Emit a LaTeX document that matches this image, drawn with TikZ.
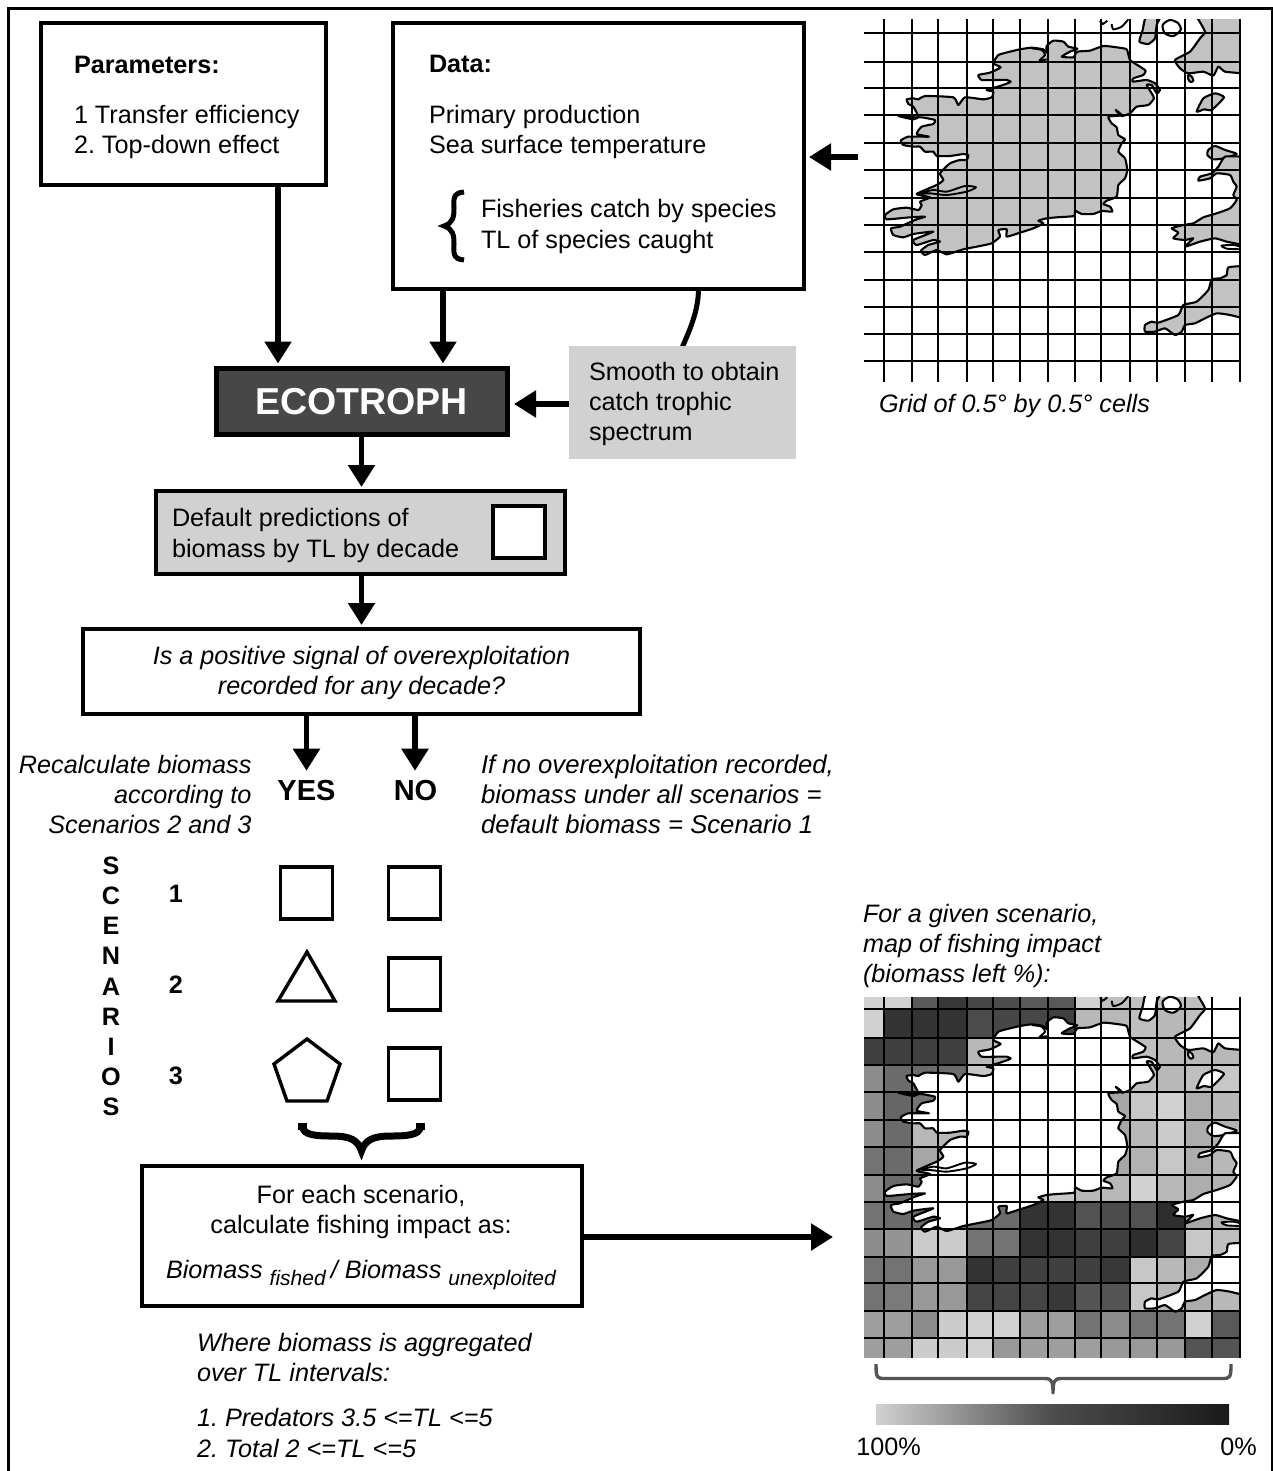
\documentclass[tikz,border=0pt]{standalone}
\usepackage{fontspec}
\setmainfont{Liberation Sans}
\usetikzlibrary{arrows.meta,calc}
\definecolor{landgray}{gray}{0.76}
\definecolor{boxgray}{gray}{0.82}
\definecolor{darkbox}{gray}{0.28}
\definecolor{bracegray}{gray}{0.33}
\newcommand{\landshapes}{%
 % Ireland
 \draw[land] plot[smooth cycle,tension=.3] coordinates {(430,160)(445,135)(480,125)(510,118)(545,113)(580,118)(590,128)(590,108)(610,92)(640,95)(655,110)(682,116)(660,125)(635,140)(670,142)(682,125)(720,122)(760,108)(800,112)(830,118)(840,150)(870,170)(887,182)(880,195)(850,205)(848,215)(890,210)(915,220)(930,240)(920,250)(905,225)(890,225)(905,250)(912,265)(895,285)(860,290)(840,310)(815,318)(797,300)(815,316)(775,320)(785,340)(800,352)(805,375)(825,388)(815,400)(805,425)(825,445)(832,480)(825,505)(805,525)(800,560)(770,572)(760,582)(780,590)(787,605)(755,603)(730,612)(695,612)(675,602)(672,618)(620,622)(590,625)(565,632)(580,640)(550,655)(510,668)(470,680)(470,658)(445,660)(450,680)(425,700)(390,708)(340,718)(290,733)(260,720)(225,735)(213,722)(235,705)(270,695)(250,690)(200,705)(190,690)(250,665)(190,672)(160,682)(130,675)(123,655)(150,650)(195,630)(225,620)(180,622)(110,628)(105,615)(130,598)(170,593)(205,600)(215,585)(210,575)(240,562)(200,552)(260,525)(280,510)(270,490)(300,460)(330,450)(350,450)(355,435)(340,432)(300,438)(260,438)(250,425)(225,425)(210,410)(190,410)(160,405)(152,392)(175,380)(237,380)(200,372)(215,350)(250,342)(255,330)(215,322)(195,322)(145,318)(190,328)(205,320)(190,290)(175,282)(170,268)(190,265)(205,268)(225,258)(310,262)(325,285)(345,262)(400,268)(425,262)(430,245)(410,240)(450,228)(482,216)(470,210)(440,210)(395,210)(385,195)(420,188)(452,172)};
 \draw[line width=1.9pt,line join=round] plot[smooth,tension=.4] coordinates {(200,552)(250,540)(290,545)(345,528)(378,532)(350,545)(290,555)(240,550)(215,552)};
 \draw[line width=1.9pt,line join=round] plot[smooth,tension=.4] coordinates {(545,115)(575,120)(585,135)(568,152)(590,148)};
 % Scotland
 \draw[land] plot[smooth,tension=.3] coordinates {(1040,20)(1065,65)(1050,85)(1020,125)(975,150)(990,175)(1015,190)(1060,185)(1090,197)(1105,170)(1125,185)(1180,190)} -- (1180,20) -- cycle;
 % islands
 \draw[land] plot[smooth cycle,tension=.3] coordinates {(888,20)(878,60)(868,95)(895,102)(915,85)(920,45)(930,20)};
 \draw[landw] plot[smooth cycle,tension=.5] coordinates {(938,45)(960,30)(985,40)(992,60)(970,78)(945,70)};
 \draw[line width=1.9pt] plot[smooth,tension=.4] coordinates {(750,32)(758,42)(772,32)};
 \draw[line width=1.9pt] plot[smooth,tension=.4] coordinates {(785,42)(790,58)(815,50)(835,28)};
 \draw[land] plot[smooth cycle,tension=.5] coordinates {(1015,195)(1025,200)(1030,212)(1022,216)(1015,208)};
 \draw[land] plot[smooth cycle,tension=.3] coordinates {(1040,305)(1060,265)(1095,250)(1122,262)(1085,300)(1062,298)};
 % Wales
 \draw[land] plot[smooth cycle,tension=.4] coordinates {(1075,420)(1095,408)(1125,420)(1160,432)(1120,445)(1090,448)(1072,435)};
 \draw[land] plot[smooth,tension=.3] coordinates {(1180,440)(1125,440)(1105,470)(1085,490)(1050,500)(1045,512)(1080,505)(1100,490)(1140,495)(1150,515)(1160,530)(1150,555)(1160,570)(1140,595)(1100,610)(1060,622)(1030,640)(1000,645)(965,655)(985,668)(970,685)(1005,690)(1030,685)(1005,710)(1050,695)(1095,685)(1130,695)(1180,705)} -- cycle;
 \draw[line width=1.9pt,fill=white] plot[smooth,tension=.4] coordinates {(1180,718)(1130,716)(1115,707)(1150,705)(1180,712)};
 % Cornwall
 \draw[land] plot[smooth,tension=.3] coordinates {(1180,768)(1135,772)(1130,795)(1110,805)(1085,808)(1075,840)(1040,875)(1000,885)(985,915)(925,938)(905,935)(885,945)(885,965)(915,965)(945,955)(975,975)(995,965)(1005,945)(1035,940)(1065,925)(1100,910)(1140,915)(1180,925)} -- cycle;
}
\newcommand{\gridlines}{%
 \foreach \gy in {68,155,235,315,400,480,565,645,727,810,890,972,1053}
   \draw[gridline] (43,\gy) -- (1170,\gy);
 \foreach \gx in {103,185,264,350,429,510,594,676,754,841,921,1005,1087,1170}
   \draw[gridline] (\gx,\gridtop) -- (\gx,\gridbot);
}
\tikzset{
 every node/.style={font=\fontsize{25.2}{30.2}\selectfont\frenchspacing,inner sep=0pt,outer sep=0pt,text=black},
 flowbox/.style={draw=black,line width=3.6pt,fill=white,inner sep=0pt},
 greybox/.style={flowbox,fill=boxgray},
 sq/.style={draw=black,line width=3.4pt,fill=white,minimum width=52pt,minimum height=52pt},
 lft/.style={anchor=west,align=left},
 rgt/.style={anchor=east,align=right},
 ctr/.style={align=center},
 itx/.style={font=\fontsize{25.2}{30.2}\selectfont\frenchspacing\itshape},
 bfx/.style={font=\fontsize{25.2}{30.2}\selectfont\bfseries},
 flow/.style={line width=5.4pt,-{Triangle[width=26pt,length=22pt]}},
 land/.style={draw=black,line width=2.1pt,line join=round,fill=landgray},
 landw/.style={draw=black,line width=2.1pt,line join=round,fill=white},
 gridline/.style={draw=black,line width=2.1pt},
}
\begin{document}
\begin{tikzpicture}[x=1pt,y=-1pt]
\useasboundingbox (0,0) rectangle (1273,1471);
\fill[white] (0,0) rectangle (1273,1471);
\draw[line width=2.4pt] (8.5,1471) -- (8.5,8.5) -- (1271.7,8.5) -- (1271.7,1471);

% map 1
\begin{scope}[shift={(850,10)},x=.33333pt,y=-.33333pt]
 \begin{scope}
  \clip (43,28) rectangle (1170,1115);
  \landshapes
 \end{scope}
 \def\gridtop{28}\def\gridbot{1115}
 \gridlines
\end{scope}

% map 2
\begin{scope}[shift={(850,980)},x=.33333pt,y=-.33333pt]
 \foreach \ya/\yb/\vals in {
  50/90/{82,82,35,22,28,30,35,35,82,75,75,75,75,100},
  90/175/{82,20,20,20,30,28,28,25,72,72,75,72,75,100},
  175/255/{25,25,25,25,72,72,72,72,72,72,75,72,72,72},
  255/338/{55,42,42,42,78,78,78,78,78,75,75,72,75,78},
  338/422/{55,40,45,45,78,78,78,78,78,65,78,82,68,72},
  422/502/{55,42,72,72,78,78,78,78,78,65,72,80,68,70},
  502/585/{45,42,65,65,78,78,78,78,78,65,70,78,68,72},
  585/665/{55,42,42,42,78,78,78,78,72,72,82,72,68,70},
  665/748/{45,42,42,42,42,42,20,20,32,30,32,18,65,70},
  748/830/{55,58,80,80,45,45,20,20,25,25,18,27,78,75},
  830/910/{45,45,60,60,20,25,25,25,25,22,78,72,68,72},
  910/992/{45,48,60,60,27,27,27,22,33,33,78,72,68,72},
  992/1073/{62,62,55,80,82,82,62,62,45,55,45,45,82,35},
  1073/1135/{62,62,80,80,82,60,62,62,62,60,60,60,33,33}} {
   \foreach \gv [count=\c from 0] in \vals {
     \pgfmathsetmacro{\xa}{{43,103,185,264,350,429,510,594,676,754,841,921,1005,1087}[\c]}
     \pgfmathsetmacro{\xb}{{103,185,264,350,429,510,594,676,754,841,921,1005,1087,1170}[\c]}
     \pgfmathtruncatemacro{\dk}{100-\gv}
     \fill[black!\dk!white] (\xa,\ya) rectangle (\xb,\yb);
   }
 }
 \begin{scope}[shift={(0,20)}]
  \begin{scope}
   \clip (43,30) rectangle (1170,1115);
   \tikzset{land/.style={draw=black,line width=2.1pt,line join=round,fill=white}}
   \landshapes
  \end{scope}
  \def\gridtop{30}\def\gridbot{1115}
  \gridlines
 \end{scope}
\end{scope}

\node[flowbox,minimum width=411pt,minimum height=266pt] (data) at (598.5,156) {};
\node[flowbox,minimum width=285pt,minimum height=162pt] (params) at (183.5,104) {};
\node[draw=black,line width=5pt,fill=darkbox,minimum width=291pt,minimum height=66pt,text=white,font=\fontsize{37.5}{40}\selectfont\bfseries] (eco) at (361.5,401.5) {ECOTROPH};
\draw[line width=5pt] ([xshift=100pt]data.south) .. controls +(0,22) and +(8,-18) .. (681,350);
\node[fill=boxgray,minimum width=227pt,minimum height=113pt] (smooth) at (682.5,402.5) {};
\node[greybox,minimum width=409pt,minimum height=83pt] (default) at (360.5,532.5) {};
\node[flowbox,minimum width=557pt,minimum height=85pt] (question) at (361.5,671.5) {};
\node[flowbox,minimum width=440pt,minimum height=140pt] (foreach) at (362,1236) {};
\node[sq] (sqdefault) at (519,532) {};

% box texts
\node[bfx,lft] (tparams) at (74,65) {Parameters:};
\node[lft] (tparams2) at (74,132) {1 Transfer efficiency\\2. Top-down effect};
\node[bfx,lft] (tdata) at (429,64) {Data:};
\node[lft] (tdata2) at (429,132) {Primary production\\Sea surface temperature};
\node[lft] (tdata3) at (481,226.5) {Fisheries catch by species\\TL of species caught};
\draw[line width=5pt,line cap=butt] (464,192) .. controls (452,193) and (454,200) .. (454,208) .. controls (454,217) and (453,223) .. (444,226) .. controls (453,229) and (454,235) .. (454,244) .. controls (454,252) and (452,259) .. (464,260);
\node[lft] (tsmooth) at (589,404) {Smooth to obtain\\catch trophic\\spectrum};
\node[lft] (tdefault) at (172,535.5) {Default predictions of\\biomass by TL by decade};
\node[itx,ctr] (tquestion) at (361.5,673) {Is a positive signal of overexploitation\\recorded for any decade?};
\node[itx,rgt] (trecalc) at (251.5,794.5) {Recalculate biomass\\according to\\Scenarios 2 and 3};
\node[itx,lft,font=\fontsize{25.7}{30.2}\selectfont\frenchspacing\itshape] (tifno) at (481,794.5) {If no overexploitation recorded,\\biomass under all scenarios =\\default biomass = Scenario 1};
\node[font=\fontsize{29}{30}\selectfont\bfseries] (yes) at (306.5,791) {YES};
\node[font=\fontsize{29}{30}\selectfont\bfseries] (no) at (415.5,791) {NO};
\node[itx,lft] (tgrid) at (879,405.5) {Grid of 0.5° by 0.5° cells};
\node[itx,lft] (tgiven) at (863,946) {For a given scenario,\\map of fishing impact\\(biomass left \%):};
\node[ctr] (teach) at (361,1212) {For each scenario,\\calculate fishing impact as:};
\node[lft,itx] (tformula) at (166,1275.5) {Biomass\hspace{0.28em}\raisebox{-7pt}{\fontsize{21}{24}\selectfont fished}\hspace{0.2em}/ Biomass\hspace{0.28em}\raisebox{-7pt}{\fontsize{21}{24}\selectfont unexploited}};
\node[itx,lft] (twhere) at (197,1357.5) {Where biomass is aggregated\\over TL intervals:};
\node[itx,lft] (tlist) at (197,1433) {1. Predators 3.5 <=TL <=5\\2. Total 2 <=TL <=5};

% scenarios column
\foreach \ch/\yy [count=\i] in {S/866,C/896,E/926,N/956,A/987,R/1017,I/1047,O/1077,S/1107}
  \node[bfx] (scen\i) at (111,\yy) {\ch};
\node[bfx] (n1) at (176,894) {1};
\node[bfx] (n2) at (176,985) {2};
\node[bfx] (n3) at (176,1075.5) {3};

% scenario shapes
\node[sq] (y1) at (306.5,893) {};
\node[sq] (n1s) at (414.5,893) {};
\node[sq] (n2s) at (414.5,984) {};
\node[sq] (n3s) at (414.5,1074) {};
\draw[line width=3.4pt,line join=miter] (307,952) -- (335,1001) -- (278,1001) -- cycle;
\draw[line width=3.4pt,line join=miter] (307,1039) -- (340,1064) -- (327,1101) -- (287,1101) -- (274,1064) -- cycle;

% brace under shapes
\draw[line width=7pt] (303,1127) .. controls (303,1135) and (316,1136) .. (332,1136) .. controls (350,1136) and (358,1140) .. (361.5,1151) .. controls (365,1140) and (373,1136) .. (391,1136) .. controls (407,1136) and (420,1135) .. (420,1127);
\draw[line width=9pt] (302.5,1122.5) -- (302.5,1130);
\draw[line width=9pt] (420.5,1122.5) -- (420.5,1130);

% connectors
\coordinate (mapedge) at (858,157);
\coordinate (mapin) at (833,1237);
\draw[flow] ([xshift=94.5pt]params.south) -- ([xshift=-83.5pt,yshift=5pt]eco.north);
\draw[flow] ([xshift=-155.5pt]data.south) -- ([xshift=81.5pt,yshift=5pt]eco.north);
\draw[flow] (smooth.west |- 0,404) -- ([yshift=-2.5pt,xshift=7pt]eco.east);
\draw[flow] (mapedge) -- ([xshift=5pt,yshift=-1pt]data.east);
\draw[flow] (eco.south) -- ([xshift=1pt,yshift=4pt]default.north);
\draw[flow] ([xshift=1pt]default.south) -- ([yshift=4pt]question.north);
\draw[flow] ([xshift=-55pt]question.south) -- ([yshift=10pt]yes.north);
\draw[flow] ([xshift=53.5pt]question.south) -- ([xshift=-0.5pt,yshift=10pt]no.north);
\draw[flow] ([yshift=-1pt]foreach.east) -- (mapin);

% scale brace and bar
\draw[bracegray,line width=3.4pt,line join=round] (876,1364) .. controls (876,1378) and (877,1378.5) .. (885,1378.5) -- (1045,1378.5) .. controls (1052,1378.5) and (1053,1382) .. (1053,1393) .. controls (1053,1382) and (1054,1378.5) .. (1061,1378.5) -- (1222,1378.5) .. controls (1230,1378.5) and (1231,1378) .. (1231,1364);
\shade[left color=boxgray,right color=black!90,middle color=black!70] (876,1404) rectangle (1229,1424);
\node (t100) at (888.5,1447) {100\%};
\node (t0) at (1238.5,1447) {0\%};
\end{tikzpicture}
\end{document}
